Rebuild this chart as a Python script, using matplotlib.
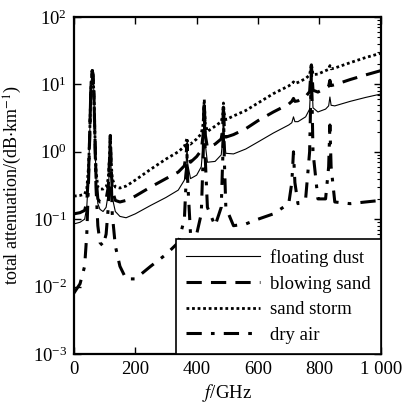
import matplotlib
matplotlib.use('Agg')
import matplotlib.pyplot as plt
from matplotlib.ticker import LogLocator, NullFormatter

plt.rcParams['font.family'] = ['Liberation Serif', 'DejaVu Serif']
plt.rcParams['mathtext.fontset'] = 'stix'
plt.rcParams['font.size'] = 13.5

# frequency samples (GHz), dense around the oxygen lines
freq = [0, 20, 35, 42, 48, 52, 55, 58, 60, 62, 65, 68, 72, 78, 85, 95, 105, 112, 116, 118.75,
        121, 125, 135, 150, 170, 200, 250, 300, 340, 360, 366, 368.5, 371, 380, 400, 415, 421,
        424.8, 428, 435, 460, 480, 485, 487.2, 490, 495, 520, 560, 600, 650, 700, 710, 715.4,
        720, 730, 755, 768, 773.8, 779, 795, 820, 830, 834.1, 838, 850, 900, 950, 1000]

dry_air = [0.008, 0.011, 0.02, 0.06, 0.4, 2.0, 8, 14, 16, 14, 8, 2.0, 0.3, 0.08, 0.045, 0.04,
           0.06, 0.15, 0.6, 1.6, 0.5, 0.12, 0.04, 0.02, 0.013, 0.013, 0.02, 0.03, 0.045, 0.1,
           0.4, 0.9, 0.35, 0.06, 0.06, 0.12, 0.8, 5.5, 0.8, 0.15, 0.08, 0.15, 0.8, 4.6, 0.8,
           0.15, 0.08, 0.085, 0.1, 0.12, 0.17, 0.35, 1.0, 0.35, 0.17, 0.2, 1.0, 18, 1.0, 0.2,
           0.2, 0.6, 2.5, 0.6, 0.18, 0.17, 0.18, 0.19]

floating_dust = [0.085, 0.09, 0.1, 0.15, 0.5, 2.1, 8, 14, 16, 14, 8, 2.1, 0.4, 0.17, 0.14, 0.13,
                 0.15, 0.24, 0.7, 1.7, 0.6, 0.21, 0.13, 0.11, 0.105, 0.12, 0.16, 0.21, 0.27,
                 0.38, 0.7, 1.1, 0.65, 0.4, 0.45, 0.6, 1.3, 5.6, 1.3, 0.7, 0.72, 0.9, 1.55,
                 4.7, 1.6, 0.95, 0.93, 1.1, 1.4, 1.9, 2.5, 2.7, 3.3, 2.8, 2.8, 3.3, 4.3, 19,
                 4.5, 3.9, 4.3, 4.8, 6.5, 4.9, 4.8, 5.6, 6.4, 7.2]

blowing_sand = [0.12, 0.125, 0.135, 0.18, 0.52, 2.1, 8, 14, 16, 14, 8, 2.1, 0.43, 0.2, 0.18,
                0.18, 0.2, 0.3, 0.75, 1.75, 0.65, 0.27, 0.19, 0.18, 0.19, 0.22, 0.3, 0.4, 0.5,
                0.62, 0.95, 1.3, 0.9, 0.7, 0.85, 1.05, 1.8, 5.7, 1.8, 1.15, 1.3, 1.55, 2.2,
                4.9, 2.3, 1.65, 1.8, 2.2, 2.9, 3.9, 5.1, 5.6, 6.2, 5.6, 5.7, 6.6, 7.8, 19.5,
                8.2, 7.7, 8.8, 9.4, 11.5, 9.6, 9.9, 11.8, 13.8, 16]

sand_storm = [0.22, 0.225, 0.235, 0.28, 0.62, 2.2, 8, 14, 16, 14, 8, 2.2, 0.52, 0.3, 0.28,
              0.28, 0.3, 0.4, 0.85, 1.85, 0.77, 0.4, 0.3, 0.29, 0.31, 0.38, 0.55, 0.78, 1.0,
              1.2, 1.45, 1.6, 1.4, 1.3, 1.55, 1.85, 2.6, 6.0, 2.6, 2.0, 2.4, 2.8, 3.5, 5.3,
              3.6, 3.0, 3.4, 4.1, 5.3, 7.3, 9.5, 10.2, 10.9, 10.3, 10.7, 12.2, 13.8, 20,
              14, 14.2, 16, 16.7, 19, 17, 17.5, 21, 25, 29]

labels = ['floating dust', 'blowing sand', 'sand storm', 'dry air']
xticks = [0, 200, 400, 600, 800, 1000]
xticklabels = ['0', '200', '400', '600', '800', '1 000']

fig = plt.figure(figsize=(4.06, 4.05), dpi=100)
ax = fig.add_axes([0.182, 0.126, 0.756, 0.832])

ax.semilogy(freq, floating_dust, '-', color='k', lw=0.8, label=labels[0])
ax.semilogy(freq, blowing_sand, '--', color='k', lw=2.2, dashes=(5, 3), label=labels[1])
ax.semilogy(freq, sand_storm, ':', color='k', lw=2.0, dashes=(1, 1), label=labels[2])
ax.semilogy(freq, dry_air, '-.', color='k', lw=2.2, dashes=(5, 3, 1.2, 3), label=labels[3])

ax.set_xlim(0, 1000)
ax.set_ylim(1e-3, 1e2)
ax.set_xticks(xticks)
ax.set_xticklabels(xticklabels)
ax.yaxis.set_major_locator(LogLocator(base=10, numticks=10))
ax.yaxis.set_minor_locator(LogLocator(base=10, subs=range(2, 10), numticks=20))
ax.yaxis.set_minor_formatter(NullFormatter())

ax.tick_params(which='major', direction='in', top=True, right=True, length=5, width=1, pad=5)
ax.tick_params(which='minor', direction='in', left=False, right=True, length=3, width=0.8)
for s in ax.spines.values():
    s.set_linewidth(1.6)

ax.set_xlabel(r'$\mathit{f}$/GHz', labelpad=3)
ax.set_ylabel(r'total attenuation/(dB$\cdot$km$^{-1}$)', fontsize=13, labelpad=6)

leg = ax.legend(loc='lower right', handlelength=3.9, handletextpad=0.55, borderpad=0.55,
                labelspacing=0.45, fancybox=False, framealpha=1, borderaxespad=0,
                fontsize=13.5)
leg.get_frame().set_edgecolor('k')
leg.get_frame().set_linewidth(1.2)

fig.savefig('out.png', dpi=100)
